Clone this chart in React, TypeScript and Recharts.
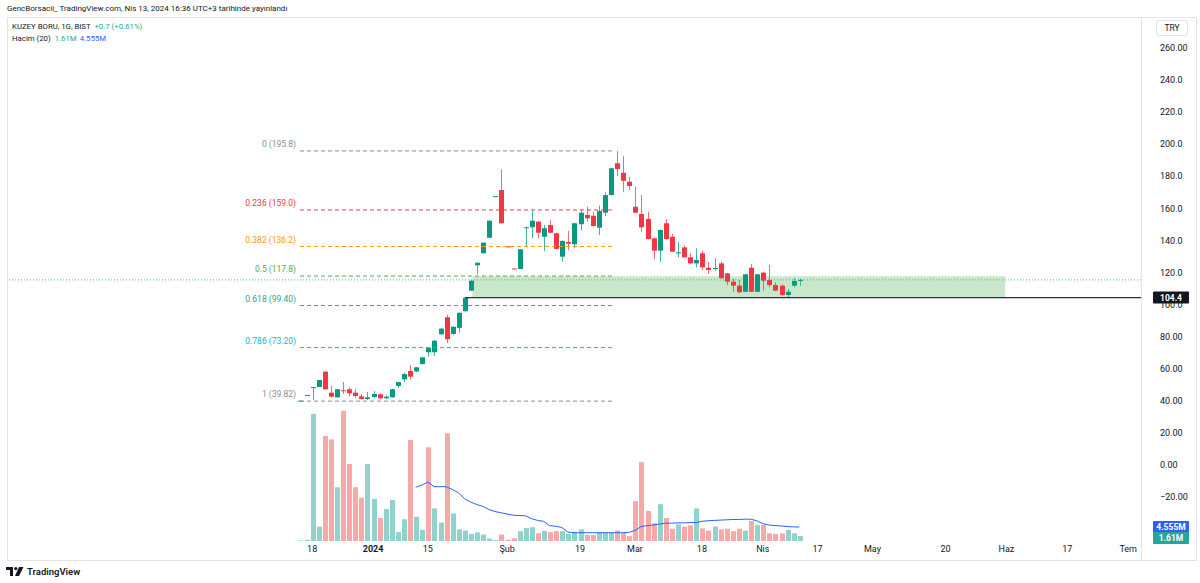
import React from 'react';
import { ComposedChart, Bar, Line, XAxis, YAxis, ReferenceLine, ReferenceArea, Cell } from 'recharts';

const FONT = 'Roboto, "Liberation Sans", sans-serif';
const UP = '#089981';
const DOWN = '#f23645';
const VOL_UP = 'rgba(38,166,154,0.5)';
const VOL_DOWN = 'rgba(239,83,80,0.5)';

// Daily candles, 14 Dec 2023 -> 9 Apr 2024 (bar index 0..82)
const opens = [39.9, 43.5, 48.4, 48.6, 58.2, 45.1, 42.2, 46.6, 47.2, 45.1, 42.8, 41.1, 42.4, 44.1, 41.6, 42.2, 49.3, 53.4, 58.6, 58.4,
  63.0, 70.3, 70.3, 81.5, 92.1, 81.7, 85.5, 95.9, 108.7, 124.5, 132.0, 141.7, 167.3, 171.4, 136.3, 122.5, 122.2, 147.8, 148.2, 151.7,
  142.3, 149.6, 144.5, 129.9, 139.0, 137.6, 150.1, 155.9, 155.4, 148.0, 157.3, 168.3, 188.1, 182.2, 176.6, 161.0, 156.5, 153.4, 141.3, 133.6,
  150.7, 142.3, 131.9, 135.7, 129.5, 125.7, 132.0, 123.0, 122.2, 125.7, 119.5, 114.3, 111.8, 108.0, 123.0, 108.0, 119.9, 115.3, 112.2, 111.8,
  106.0, 111.8, 115.0];
const highs = [40.1, 43.7, 48.8, 53.0, 58.4, 49.3, 47.4, 51.7, 48.4, 47.4, 44.3, 45.5, 46.1, 44.5, 43.8, 47.6, 52.0, 57.4, 62.3, 61.2,
  67.4, 73.2, 77.8, 85.4, 93.7, 86.5, 95.2, 104.5, 115.2, 126.3, 138.8, 152.6, 167.6, 184.4, 136.3, 122.5, 134.7, 148.6, 158.5, 152.0,
  149.6, 152.7, 144.8, 140.0, 146.0, 151.0, 159.2, 161.0, 157.9, 161.7, 170.0, 185.3, 195.8, 192.6, 179.7, 173.5, 168.3, 157.9, 141.6, 146.8,
  153.4, 144.0, 139.2, 137.0, 132.0, 135.1, 133.6, 126.4, 128.9, 126.8, 119.8, 116.0, 115.3, 119.2, 125.3, 119.2, 120.5, 124.7, 113.9, 112.5,
  109.7, 116.4, 116.0];
const lows = [39.9, 43.5, 40.5, 48.6, 47.0, 42.0, 42.0, 44.3, 42.6, 42.0, 41.0, 40.5, 42.0, 41.0, 41.0, 42.0, 48.0, 51.7, 53.4, 58.0,
  62.6, 67.5, 68.0, 81.0, 76.0, 81.2, 82.6, 95.5, 108.5, 118.9, 131.8, 141.5, 167.3, 150.5, 136.0, 122.3, 122.0, 135.7, 141.3, 141.3,
  133.4, 144.5, 134.4, 126.8, 134.0, 135.1, 146.3, 151.7, 148.7, 143.4, 155.2, 168.0, 180.2, 170.4, 171.4, 157.0, 145.5, 140.6, 128.4, 126.7,
  140.6, 132.7, 129.5, 129.2, 125.4, 123.2, 121.6, 119.1, 121.1, 116.1, 112.2, 108.0, 107.0, 107.8, 107.8, 107.8, 108.7, 110.8, 108.4, 105.4,
  104.6, 110.8, 111.8];
const closes = [40.1, 43.7, 48.6, 53.0, 47.2, 42.6, 47.2, 46.0, 44.7, 43.0, 41.1, 42.2, 44.3, 41.6, 42.6, 47.2, 51.7, 56.7, 55.1, 60.9,
  67.1, 72.9, 77.5, 85.0, 78.4, 86.2, 94.9, 104.3, 114.9, 126.1, 138.6, 152.3, 167.6, 150.7, 136.0, 122.3, 134.5, 148.2, 152.3, 144.8,
  147.6, 144.8, 134.7, 139.7, 138.0, 150.7, 157.3, 153.8, 149.0, 158.4, 168.3, 185.0, 184.5, 177.2, 173.9, 157.3, 148.2, 140.9, 133.6, 146.5,
  140.9, 133.0, 132.6, 129.5, 125.7, 127.8, 123.2, 121.6, 122.8, 116.4, 114.3, 111.8, 107.7, 118.9, 108.0, 118.9, 114.9, 112.2, 108.7, 106.0,
  108.0, 114.7, 115.4];
// Volume in millions and its colour (1 = up, 0 = down)
const volumes = [0.2, 0.4, 41.4, 4.7, 34.2, 33.1, 17.5, 42.4, 25.1, 17.5, 14.1, 25.1, 13.7, 7.5, 10.4, 13.4, 2.9, 7.1, 32.9, 7.9,
  3.6, 30.5, 10.6, 6.0, 35.1, 9.0, 3.8, 3.4, 2.3, 2.8, 2.1, 0.8, 0.3, 2.1, 0.4, 0.9, 3.2, 4.2, 4.5, 2.5,
  3.3, 2.9, 3.2, 3.2, 2.3, 3.0, 3.8, 2.0, 2.0, 2.8, 2.8, 2.7, 3.4, 2.7, 1.6, 13.0, 25.7, 9.8, 5.8, 12.0,
  7.5, 4.0, 5.4, 4.7, 5.1, 10.6, 4.1, 3.4, 4.7, 3.8, 4.0, 3.2, 4.0, 3.4, 6.5, 5.2, 5.3, 2.5, 2.3, 2.5,
  3.6, 2.5, 1.61];
const volDirs = [1, 1, 1, 1, 0, 0, 1, 0, 0, 0, 0, 1, 1, 0, 1, 1, 1, 1, 0, 1,
  1, 0, 1, 1, 0, 1, 1, 1, 1, 1, 1, 1, 1, 0, 0, 0, 1, 1, 1, 0,
  1, 0, 0, 1, 1, 1, 1, 0, 0, 1, 1, 1, 0, 0, 0, 0, 0, 0, 0, 1,
  0, 0, 1, 0, 0, 1, 0, 0, 1, 0, 0, 0, 0, 1, 0, 1, 0, 0, 0, 0,
  1, 1, 1];
// Volume moving average (20), millions
const volMA = [null, null, null, null, null, null, null, null, null, null, null, null, null, null, null, null, null, null, null, 17.5,
  18.2, 19.2, 17.7, 17.7, 17.7, 16.8, 15.7, 13.8, 12.7, 11.9, 11.3, 10.3, 9.6, 9.2, 8.8, 8.4, 8.3, 8.2, 7.3, 6.7,
  6.4, 5.0, 4.8, 4.4, 2.9, 2.7, 2.7, 2.7, 2.7, 2.7, 2.7, 2.7, 2.7, 2.7, 2.8, 3.4, 4.7, 5.0, 5.2, 5.5,
  5.8, 5.8, 5.9, 5.9, 6.0, 6.0, 6.4, 6.6, 6.7, 6.8, 6.9, 7.0, 7.0, 7.1, 7.1, 6.6, 5.7, 5.2, 5.0, 4.9,
  4.7, 4.6, 4.555];

const timeTickIdx = [2, 12, 21, 34, 46, 55, 66, 76, 85, 94, 106, 116, 126, 136];
const timeTickLabels = ['18', '2024', '15', 'Şub', '19', 'Mar', '18', 'Nis', '17', 'May', '20', 'Haz', '17', 'Tem'];
const priceTicks = [-20, 0, 20, 40, 60, 80, 100, 120, 140, 160, 180, 200, 220, 240, 260];
const priceTickLabels = ['\u221220.00', '0.00', '20.00', '40.00', '60.00', '80.00', '100.0', '120.0', '140.0', '160.0', '180.0', '200.0', '220.0', '240.0', '260.00'];

const fibPrices = [195.8, 159.0, 136.2, 117.8, 99.40, 73.20, 39.82];
const fibLabels = ['0 (195.8)', '0.236 (159.0)', '0.382 (136.2)', '0.5 (117.8)', '0.618 (99.40)', '0.786 (73.20)', '1 (39.82)'];
const fibColors = ['#8a8d97', '#f23645', '#ff9800', '#4caf50', '#26a69a', '#00bcd4', '#8a8d97'];
const fibStart = 0;
const fibEnd = 51.2;

const zoneLow = 104.4;
const zoneHigh = 117.6;
const zoneStart = 28.3;
const zoneEnd = 115.8;
const hLineStart = 27.1;

const X_DOMAIN: [number, number] = [-47.95, 138.1];
const PRICE_DOMAIN: [number, number] = [-47.38, 279.3];
const VOL_DOMAIN: [number, number] = [0, 170.68];

const data = opens.map((o, i) => ({
  i,
  o,
  h: highs[i],
  l: lows[i],
  c: closes[i],
  v: volumes[i],
  up: volDirs[i],
  ma: volMA[i],
}));

const lastClose = closes[closes.length - 1];
const lastVol = volumes[volumes.length - 1];
const lastMA = volMA[volMA.length - 1] as number;

const CandleShape = (props: any) => {
  const { x, y, width, height, payload } = props;
  if (x == null || y == null || !payload) return null;
  const { o, h, l, c } = payload;
  const cx = Math.round(x + width / 2) + 0.5;
  const top = Math.min(y, y + height);
  const bot = Math.max(y, y + height);
  const range = h - l;
  const k = range > 0 ? (bot - top) / range : 0;
  const yO = top + (h - o) * k;
  const yC = top + (h - c) * k;
  const bTop = Math.min(yO, yC);
  const bH = Math.max(1, Math.abs(yO - yC));
  const color = c >= o ? UP : DOWN;
  return (
    <g>
      <line x1={cx} x2={cx} y1={top} y2={bot} stroke={color} strokeWidth={1} strokeOpacity={0.75} />
      <rect x={cx - 2.5} y={bTop} width={5} height={bH} fill={color} />
    </g>
  );
};

const VolShape = (props: any) => {
  const { x, y, width, height, fill } = props;
  if (x == null) return null;
  const cx = Math.round(x + width / 2) + 0.5;
  return <rect x={cx - 2.5} y={y} width={5} height={Math.max(0, height)} fill={fill} />;
};

const TimeTick = (props: any) => {
  const { x, y, payload } = props;
  const k = timeTickIdx.indexOf(payload.value);
  const label = k >= 0 ? timeTickLabels[k] : '';
  return (
    <text x={x} y={y} dy="0.71em" textAnchor="middle" fontSize={9} fontFamily={FONT}
      fill="#131722" fontWeight={label === '2024' ? 700 : 400}>{label}</text>
  );
};

const fibLabel = (text: string, color: string) => (props: any) => {
  const vb = props.viewBox || {};
  return (
    <text x={vb.x - 4} y={vb.y - 4} textAnchor="end" fontSize={8.5} fontFamily={FONT} style={{ fill: color }}>{text}</text>
  );
};

const badge = (text: string, bg: string, dy: number) => (props: any) => {
  const vb = props.viewBox || {};
  const bx = vb.x + vb.width + 12;
  const by = vb.y + dy;
  return (
    <g>
      <rect x={bx} y={by - 6} width={36} height={12} fill={bg} rx={1} />
      <text x={bx + 18} y={by + 3} textAnchor="middle" fontSize={8.5} fontWeight={700} fontFamily={FONT} fill="#ffffff">{text}</text>
    </g>
  );
};

export default function App() {
  return (
    <div style={{ position: 'absolute', left: 0, top: 0, width: 1200, height: 583, background: '#ffffff', fontFamily: FONT }}>
      <ComposedChart width={1200} height={583} data={data} margin={{ top: 17, right: 0, bottom: 22, left: 8 }}>
        <XAxis xAxisId="main" dataKey="i" type="number" domain={X_DOMAIN} allowDataOverflow ticks={timeTickIdx}
          interval={0} tick={<TimeTick />} axisLine={false} tickLine={false} tickSize={0} tickMargin={5} height={20} />
        <XAxis xAxisId="vx" dataKey="i" type="number" domain={X_DOMAIN} allowDataOverflow hide />
        <YAxis yAxisId="price" orientation="right" type="number" domain={PRICE_DOMAIN} allowDataOverflow ticks={priceTicks}
          interval={0} width={59} axisLine={false} tickLine={false} tickSize={0} tickMargin={19}
          tickFormatter={(v: number) => priceTickLabels[priceTicks.indexOf(v)] ?? ''}
          tick={{ fontSize: 9, fill: '#131722', fontFamily: FONT }} />
        <YAxis yAxisId="vol" type="number" domain={VOL_DOMAIN} allowDataOverflow hide />

        <ReferenceArea xAxisId="main" yAxisId="price" x1={zoneStart} x2={zoneEnd} y1={zoneLow} y2={zoneHigh}
          fill="#4caf50" fillOpacity={0.3} stroke="none" />

        <Bar xAxisId="vx" yAxisId="vol" dataKey="v" barSize={5} isAnimationActive={false} shape={<VolShape />}>
          {data.map((d) => (
            <Cell key={d.i} fill={d.up ? VOL_UP : VOL_DOWN} />
          ))}
        </Bar>
        <Line xAxisId="vx" yAxisId="vol" dataKey="ma" stroke="#2962ff" strokeWidth={1} dot={false}
          activeDot={false} isAnimationActive={false} connectNulls={false} />

        {fibPrices.map((p, k) => (
          <ReferenceLine key={`fib-${k}`} xAxisId="main" yAxisId="price"
            segment={[{ x: fibStart, y: p }, { x: fibEnd, y: p }]}
            stroke={fibColors[k]} strokeWidth={1} strokeDasharray="4 3"
            label={fibLabel(fibLabels[k], fibColors[k])} />
        ))}

        <ReferenceLine xAxisId="main" yAxisId="price" y={lastClose} stroke={UP} strokeWidth={1} strokeDasharray="1 2" strokeOpacity={0.7} />
        <ReferenceLine xAxisId="main" yAxisId="price"
          segment={[{ x: hLineStart, y: zoneLow }, { x: X_DOMAIN[1], y: zoneLow }]}
          stroke="#2a2e39" strokeWidth={1.2} />

        <Bar xAxisId="main" yAxisId="price" dataKey={(d: any) => [d.l, d.h]} barSize={5}
          isAnimationActive={false} shape={<CandleShape />} />

        <ReferenceLine xAxisId="main" yAxisId="price" y={zoneLow} stroke="none" label={badge('104.4', '#131722', 0)} />
        <ReferenceLine xAxisId="vx" yAxisId="vol" y={lastMA} stroke="none" label={badge('4.555M', '#2962ff', 0)} />
        <ReferenceLine xAxisId="vx" yAxisId="vol" y={lastVol} stroke="none" label={badge('1.61M', '#26a69a', 2)} />
      </ComposedChart>

      <div style={{ position: 'absolute', left: 7, top: 4, fontSize: 8, color: '#131722', whiteSpace: 'nowrap', lineHeight: '10px' }}>
        GencBorsacii_ TradingView.com, Nis 13, 2024 16:36 UTC+3 tarihinde yayınlandı
      </div>
      <div style={{ position: 'absolute', left: 7, top: 17, width: 1190, height: 544, border: '1px solid #e0e3eb', pointerEvents: 'none', boxSizing: 'border-box' }} />
      <div style={{ position: 'absolute', left: 1141, top: 17, width: 1, height: 544, background: '#e0e3eb' }} />
      <div style={{ position: 'absolute', left: 12, top: 22, fontSize: 7.8, color: '#131722', whiteSpace: 'nowrap', lineHeight: '10px' }}>
        KUZEY BORU, 1G, BIST <span style={{ color: '#22ab94', marginLeft: 2 }}>+0.7 (+0.61%)</span>
      </div>
      <div style={{ position: 'absolute', left: 12, top: 34, fontSize: 7.8, color: '#131722', whiteSpace: 'nowrap', lineHeight: '10px' }}>
        Hacim (20) <span style={{ color: '#22ab94', marginLeft: 2 }}>1.61M</span>
        <span style={{ color: '#2962ff', marginLeft: 3 }}>4.555M</span>
      </div>
      <div style={{ position: 'absolute', left: 1156, top: 20, width: 32, height: 16, border: '1px solid #e0e3eb', borderRadius: 3,
        boxSizing: 'border-box', fontSize: 8.5, color: '#131722', textAlign: 'center', lineHeight: '14px' }}>TRY</div>
      <div style={{ position: 'absolute', left: 6, top: 566, display: 'flex', alignItems: 'center' }}>
        <svg width={18} height={10} viewBox="0 0 18 10">
          <path d="M0 0h7v9H4V3H0z" fill="#131722" />
          <circle cx={9.8} cy={1.6} r={1.6} fill="#131722" />
          <path d="M13 0h4.5l-4.5 9H9z" fill="#131722" />
        </svg>
        <span style={{ fontSize: 9.5, fontWeight: 600, color: '#131722', marginLeft: 3 }}>TradingView</span>
      </div>
    </div>
  );
}
